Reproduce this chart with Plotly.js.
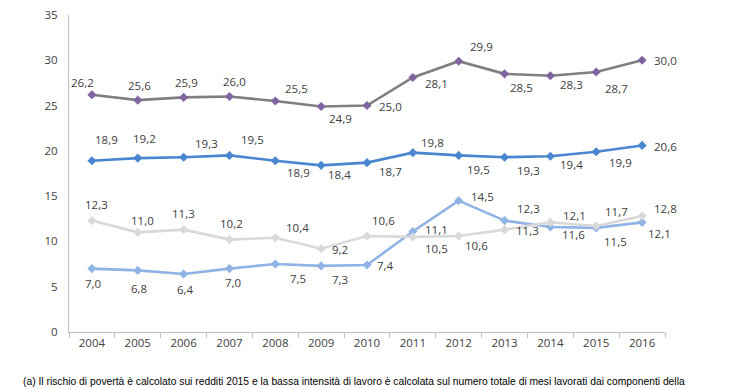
<!DOCTYPE html>
<html>
<head>
<meta charset="utf-8">
<script src="https://cdn.plot.ly/plotly-3.0.1.min.js"></script>
<style>html,body{margin:0;padding:0;background:#fff;}#chart{width:740px;height:389px;}</style>
</head>
<body>
<div id="chart"></div>
<script>
const years = ['2004','2005','2006','2007','2008','2009','2010','2011','2012','2013','2014','2015','2016'];
const seriesA = [26.2, 25.6, 25.9, 26.0, 25.5, 24.9, 25.0, 28.1, 29.9, 28.5, 28.3, 28.7, 30.0];
const seriesB = [18.9, 19.2, 19.3, 19.5, 18.9, 18.4, 18.7, 19.8, 19.5, 19.3, 19.4, 19.9, 20.6];
const seriesC = [12.3, 11.0, 11.3, 10.2, 10.4, 9.2, 10.6, 10.5, 10.6, 11.3, 12.1, 11.7, 12.8];
const seriesD = [7.0, 6.8, 6.4, 7.0, 7.5, 7.3, 7.4, 11.1, 14.5, 12.3, 11.6, 11.5, 12.1];
const footnote = '(a) Il rischio di povertà è calcolato sui redditi 2015 e la bassa intensità di lavoro è calcolata sul numero totale di mesi lavorati dai componenti della';

// label offsets (pixels) for each series
const offA = [[-9,-12],[2,-15],[3,-15],[5,-15],[21,-13],[19,12],[23,1],[24,6],[23,-15],[17,14],[21,9],[20,16],[23,0]];
const offB = [[15,-21],[7,-20],[23,-14],[23,-16],[23,12],[18,9],[23,9],[20,-10],[20,14],[24,13],[21,8],[24,11],[23,1]];
const offC = [[5,-16],[5,-12],[0,-16],[2,-16],[22,-10],[19,1],[16,-15],[24,12],[18,10],[23,1],[24,-7],[20,-15],[23,-8]];
const offD = [[1,15],[1,18],[2,15],[4,14],[23,14],[19,14],[18,1],[24,-2],[24,-4],[24,-12],[23,8],[19,14],[17,11]];

function tr(vals, lineColor, markerColor){
  return {x: years, y: vals, type:'scatter', mode:'lines+markers',
    line:{color: lineColor, width: 2.6},
    marker:{symbol:'diamond', size:7, color: markerColor},
    hoverinfo:'skip', cliponaxis:false};
}
const data = [
  tr(seriesD, '#8fb3e5', '#8fb3e5'),
  tr(seriesC, '#d9d9d9', '#d9d9d9'),
  tr(seriesB, '#4a86d0', '#4a86d0'),
  tr(seriesA, '#7f7f7f', '#8064a2')
];

const fmt = v => v.toFixed(1).replace('.', ',');
const annotations = [];
[[seriesA, offA],[seriesB, offB],[seriesC, offC],[seriesD, offD]].forEach(([vals, offs]) => {
  vals.forEach((v, i) => {
    annotations.push({x: i, y: v, xref:'x', yref:'y', text: fmt(v), showarrow:false,
      xshift: offs[i][0], yshift: -offs[i][1], borderpad:0,
      font:{family:'Open Sans, Liberation Sans, sans-serif', size:11.5, color:'#404040'}});
  });
});
annotations.push({xref:'paper', yref:'paper', x:-0.0789, y:-0.135, xanchor:'left', yanchor:'top',
  text: footnote, showarrow:false, borderpad:0,
  font:{family:'Liberation Sans, Arial, sans-serif', size:10.3, color:'#000'}});

const layout = {
  width:740, height:389,
  margin:{l:69, r:75, t:15, b:57.3, pad:0},
  paper_bgcolor:'#fff', plot_bgcolor:'#fff',
  showlegend:false,
  font:{family:'Open Sans, Liberation Sans, sans-serif', size:11.5, color:'#404040'},
  xaxis:{type:'category', range:[-0.5, 12.5], showgrid:false, zeroline:false,
    showline:true, linecolor:'#bfbfbf', linewidth:1,
    ticks:'outside', tickson:'boundaries', ticklen:5, tickcolor:'#bfbfbf',
    tickfont:{size:11.5, color:'#404040'}},
  yaxis:{range:[0,35], dtick:5, showgrid:false, zeroline:false,
    showline:true, linecolor:'#bfbfbf', linewidth:1, ticks:'', ticklabelstandoff:8,
    tickfont:{size:11.5, color:'#404040'}},
  annotations: annotations
};
Plotly.newPlot('chart', data, layout, {displayModeBar:false, staticPlot:true});
</script>
</body>
</html>
